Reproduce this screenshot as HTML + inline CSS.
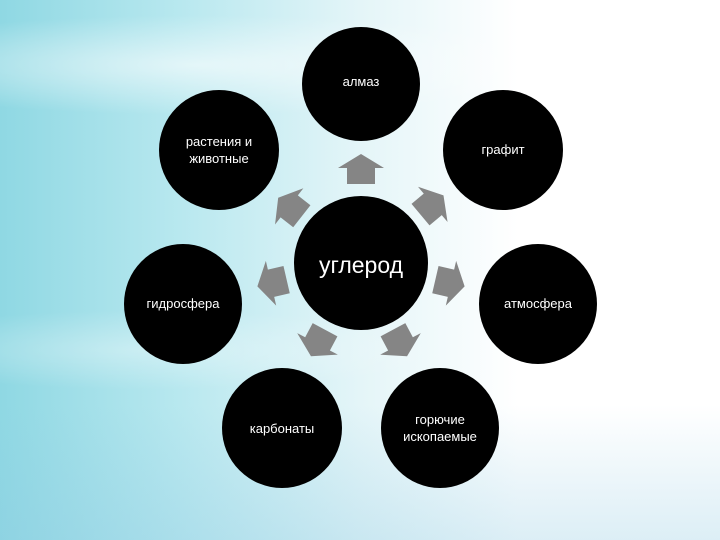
<!DOCTYPE html>
<html><head><meta charset="utf-8"><style>
html,body{margin:0;padding:0}
body{width:720px;height:540px;overflow:hidden;position:relative;font-family:"Liberation Sans","DejaVu Sans",sans-serif;
background:
radial-gradient(ellipse 380px 50px at 200px 65px, rgba(255,255,255,0.6), rgba(255,255,255,0) 100%),
radial-gradient(ellipse 300px 40px at 150px 350px, rgba(255,255,255,0.35), rgba(255,255,255,0) 100%),
linear-gradient(180deg, rgba(255,255,255,0) 75%, rgba(140,200,225,0.3) 100%),
linear-gradient(90deg,#8fd8e3 0%,#b8e8ef 25%,#e4f5f8 50%,#ffffff 72%,#ffffff 100%);}
svg{position:absolute;left:0;top:0}
</style></head><body>
<svg width="720" height="540" viewBox="0 0 720 540">
<g fill="#000">
<ellipse cx="361" cy="84" rx="59" ry="57"/>
<ellipse cx="219" cy="150" rx="60" ry="60"/>
<ellipse cx="503" cy="150" rx="60" ry="60"/>
<ellipse cx="183" cy="304" rx="59" ry="60"/>
<ellipse cx="538" cy="304" rx="59" ry="60"/>
<ellipse cx="282" cy="428" rx="60" ry="60"/>
<ellipse cx="440" cy="428" rx="59" ry="60"/>
<ellipse cx="361" cy="263" rx="67" ry="67"/>
</g>
<g fill="#858585">
<polygon transform="translate(361,169) rotate(0)" points="0,-15 23,-1 14,-1 14,15 -14,15 -14,-1 -23,-1"/>
<polygon transform="translate(290,207) rotate(-52)" points="0,-15 23,-1 14,-1 14,15 -14,15 -14,-1 -23,-1"/>
<polygon transform="translate(432,205) rotate(50)" points="0,-15 23,-1 14,-1 14,15 -14,15 -14,-1 -23,-1"/>
<polygon transform="translate(272,283) rotate(-103)" points="0,-15 23,-1 14,-1 14,15 -14,15 -14,-1 -23,-1"/>
<polygon transform="translate(450,283) rotate(103)" points="0,-15 23,-1 14,-1 14,15 -14,15 -14,-1 -23,-1"/>
<polygon transform="translate(318,343) rotate(-152)" points="0,-15 23,-1 14,-1 14,15 -14,15 -14,-1 -23,-1"/>
<polygon transform="translate(400,343) rotate(152)" points="0,-15 23,-1 14,-1 14,15 -14,15 -14,-1 -23,-1"/>
</g>
<g fill="#fff" font-family="Liberation Sans, DejaVu Sans, sans-serif" font-size="13" text-anchor="middle">
<text x="361" y="86">алмаз</text>
<text x="219" y="146">растения и</text>
<text x="219" y="163">животные</text>
<text x="503" y="154">графит</text>
<text x="183" y="308">гидросфера</text>
<text x="538" y="308">атмосфера</text>
<text x="282" y="433">карбонаты</text>
<text x="440" y="424">горючие</text>
<text x="440" y="441">ископаемые</text>
<text x="361" y="273" font-size="23">углерод</text>
</g>
</svg>
</body></html>
